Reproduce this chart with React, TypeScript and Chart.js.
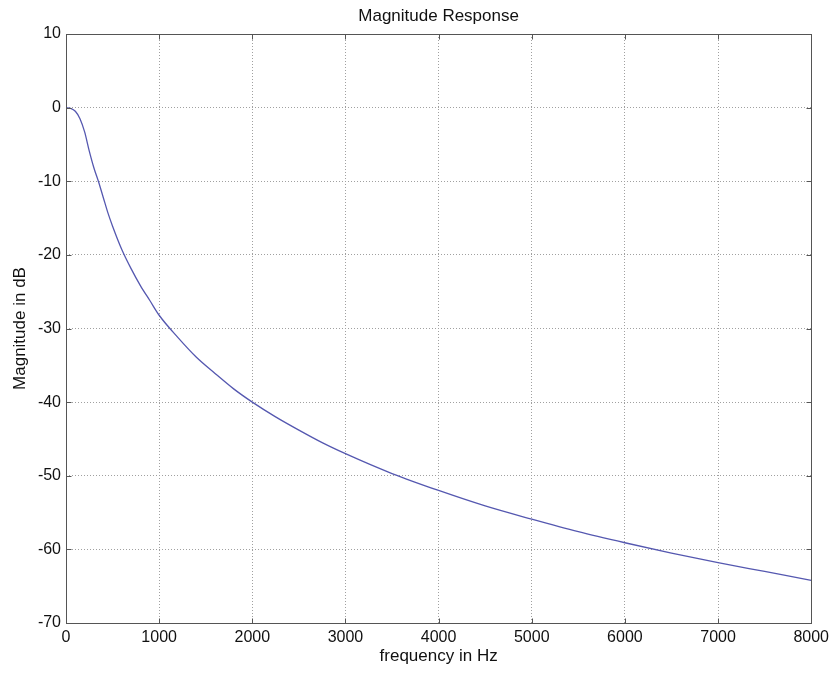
import React, { useEffect, useRef } from "react";
import { Chart, registerables } from "chart.js";

Chart.register(...registerables);

// Frequency (Hz) and magnitude (dB)
const frequencies = [
  0, 50, 100, 150, 200, 250, 300, 350, 400, 450, 500, 600, 700, 800, 900, 1000,
  1200, 1400, 1600, 1800, 2000, 2250, 2500, 2750, 3000, 3500, 4000, 4500, 5000,
  5500, 6000, 6500, 7000, 7500, 8000,
];
const magnitudesDb = [
  0, -0.1, -0.5, -1.5, -3.3, -5.9, -8.2, -10.1, -12.2, -14.3, -16.1, -19.3,
  -21.9, -24.2, -26.2, -28.2, -31.2, -33.9, -36.1, -38.2, -40.0, -42.0, -43.8,
  -45.5, -47.0, -49.7, -52.0, -54.1, -55.9, -57.6, -59.1, -60.5, -61.8, -63.0,
  -64.2,
];
const xTickValues = [0, 1000, 2000, 3000, 4000, 5000, 6000, 7000, 8000];
const yTickValues = [10, 0, -10, -20, -30, -40, -50, -60, -70];

const chartTitle = "Magnitude Response";
const xLabel = "frequency in Hz";
const yLabel = "Magnitude in dB";

const FONT = "'Liberation Sans', Arial, sans-serif";

const boxPlugin = {
  id: "matlabBox",
  afterDraw(chart: any) {
    const { ctx, chartArea } = chart;
    const { left, right, top, bottom } = chartArea;
    const xs = chart.scales.x;
    const ys = chart.scales.y;
    ctx.save();
    ctx.strokeStyle = "#555";
    ctx.lineWidth = 1;
    ctx.setLineDash([]);
    const L = Math.round(left) + 0.5;
    const R = Math.round(right) + 0.5;
    const T = Math.round(top) + 0.5;
    const B = Math.round(bottom) + 0.5;
    ctx.strokeRect(L, T, R - L, B - T);
    ctx.beginPath();
    const tl = 5;
    for (const v of xTickValues) {
      const px = Math.round(xs.getPixelForValue(v)) + 0.5;
      ctx.moveTo(px, B);
      ctx.lineTo(px, B - tl);
      ctx.moveTo(px, T);
      ctx.lineTo(px, T + tl);
    }
    for (const v of yTickValues) {
      const py = Math.round(ys.getPixelForValue(v)) + 0.5;
      ctx.moveTo(L, py);
      ctx.lineTo(L + tl, py);
      ctx.moveTo(R, py);
      ctx.lineTo(R - tl, py);
    }
    ctx.stroke();
    // title
    ctx.fillStyle = "#111";
    ctx.font = `17px ${FONT}`;
    ctx.textAlign = "center";
    ctx.textBaseline = "middle";
    ctx.fillText(chartTitle, (left + right) / 2, 16);
    ctx.restore();
  },
};

export default function App() {
  const ref = useRef<HTMLCanvasElement>(null);
  useEffect(() => {
    document.body.style.margin = "0";
    const gridCommon = {
      color: "#a0a0a0",
      lineWidth: 1,
      drawTicks: false,
    };
    const chart = new Chart(ref.current as HTMLCanvasElement, {
      type: "line",
      data: {
        datasets: [
          {
            data: frequencies.map((f, i) => ({ x: f, y: magnitudesDb[i] })),
            borderColor: "#5558b0",
            borderWidth: 1.3,
            pointRadius: 0,
            fill: false,
            cubicInterpolationMode: "monotone",
          },
        ],
      },
      options: {
        responsive: false,
        animation: false,
        layout: { padding: { top: 34, right: 22, left: 0, bottom: 0 } },
        plugins: {
          legend: { display: false },
          tooltip: { enabled: false },
          title: { display: false },
        },
        scales: {
          x: {
            type: "linear",
            min: 0,
            max: 8000,
            afterBuildTicks: (s: any) => {
              s.ticks = xTickValues.map((v) => ({ value: v }));
            },
            afterFit: (s: any) => {
              s.height = 52;
            },
            grid: gridCommon,
            border: { display: false, dash: [1, 2] },
            ticks: {
              padding: 5,
              color: "#111",
              font: { family: FONT, size: 16 },
              maxRotation: 0,
              autoSkip: false,
              callback: (v: any) => String(v),
            },
            title: {
              display: true,
              text: xLabel,
              color: "#111",
              font: { family: FONT, size: 17 },
              padding: { top: 0, bottom: 8 },
            },
          },
          y: {
            type: "linear",
            min: -70,
            max: 10,
            afterBuildTicks: (s: any) => {
              s.ticks = yTickValues.map((v) => ({ value: v }));
            },
            afterFit: (s: any) => {
              s.width = 66;
            },
            grid: gridCommon,
            border: { display: false, dash: [1, 2] },
            ticks: {
              padding: 5,
              color: "#111",
              font: { family: FONT, size: 16 },
              autoSkip: false,
              callback: (v: any) => String(v),
            },
            title: {
              display: true,
              text: yLabel,
              color: "#111",
              font: { family: FONT, size: 17 },
              padding: { top: 10, bottom: 0 },
            },
          },
        },
      },
      plugins: [boxPlugin],
    });
    return () => chart.destroy();
  }, []);
  return (
    <canvas
      ref={ref}
      width={834}
      height={675}
      style={{ display: "block", width: 834, height: 675, background: "#fff" }}
    />
  );
}
